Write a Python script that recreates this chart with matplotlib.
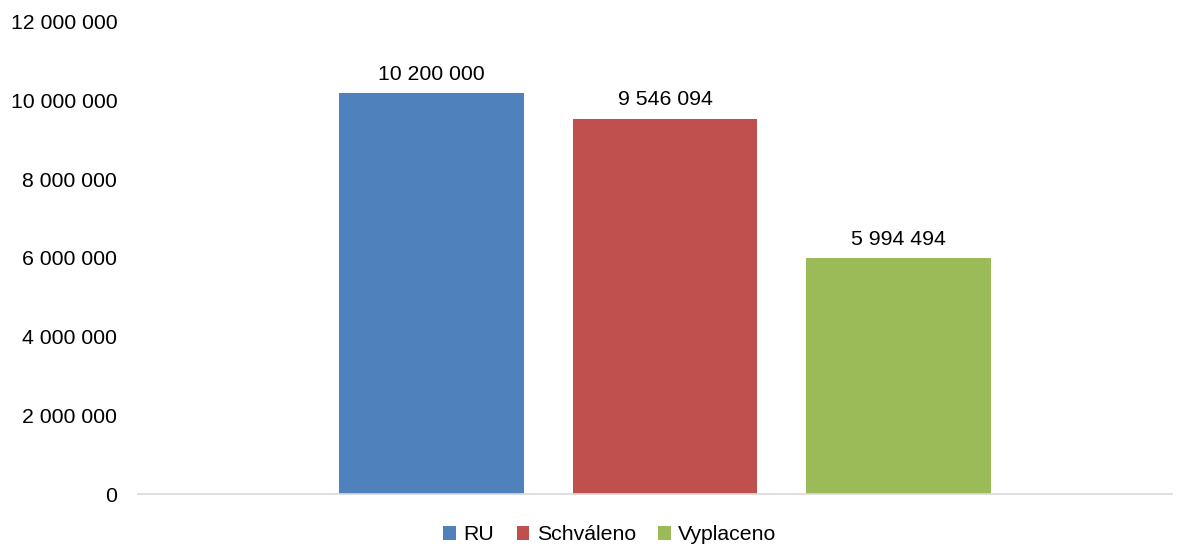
import matplotlib.pyplot as plt
from matplotlib.ticker import FuncFormatter

plt.rcParams['font.family'] = ['Liberation Sans', 'DejaVu Sans']

names = ['RU', 'Schváleno', 'Vyplaceno']
values = [10200000, 9546094, 5994494]
colors = ['#4f81bd', '#c0504d', '#9bbb59']


def fmt(v, pos=None):
    return '{:,}'.format(int(v)).replace(',', ' ')


fig = plt.figure(figsize=(11.83, 5.47), dpi=100)
ax = fig.add_axes([138 / 1183, 1 - 494 / 547, (1172 - 138) / 1183, (494 - 22) / 547])

for i, (n, v, c) in enumerate(zip(names, values, colors)):
    ax.bar(i, v, width=0.79, color=c, label=n)
    ax.annotate(fmt(v), (i, v), xytext=(0, 6.5), textcoords='offset points',
                ha='center', va='bottom', fontsize=15.3)

ax.set_xlim(-1.257, 3.17)
ax.set_ylim(0, 12000000)
ax.set_yticks(range(0, 12000001, 2000000))
ax.yaxis.set_major_formatter(FuncFormatter(fmt))
ax.tick_params(axis='y', length=0, labelsize=15.3, pad=15)
ax.set_xticks([])
for s in ['top', 'right', 'left']:
    ax.spines[s].set_visible(False)
ax.spines['bottom'].set_color('#d9d9d9')
ax.spines['bottom'].set_linewidth(1.2)

ax.legend(loc='center', bbox_to_anchor=(610 / 1183, 1 - 535 / 547),
          bbox_transform=fig.transFigure, ncol=3, frameon=False, fontsize=15.3,
          handlelength=0.6, handleheight=0.6, handletextpad=0.35, columnspacing=1.05)

fig.savefig('out.png', dpi=100)
